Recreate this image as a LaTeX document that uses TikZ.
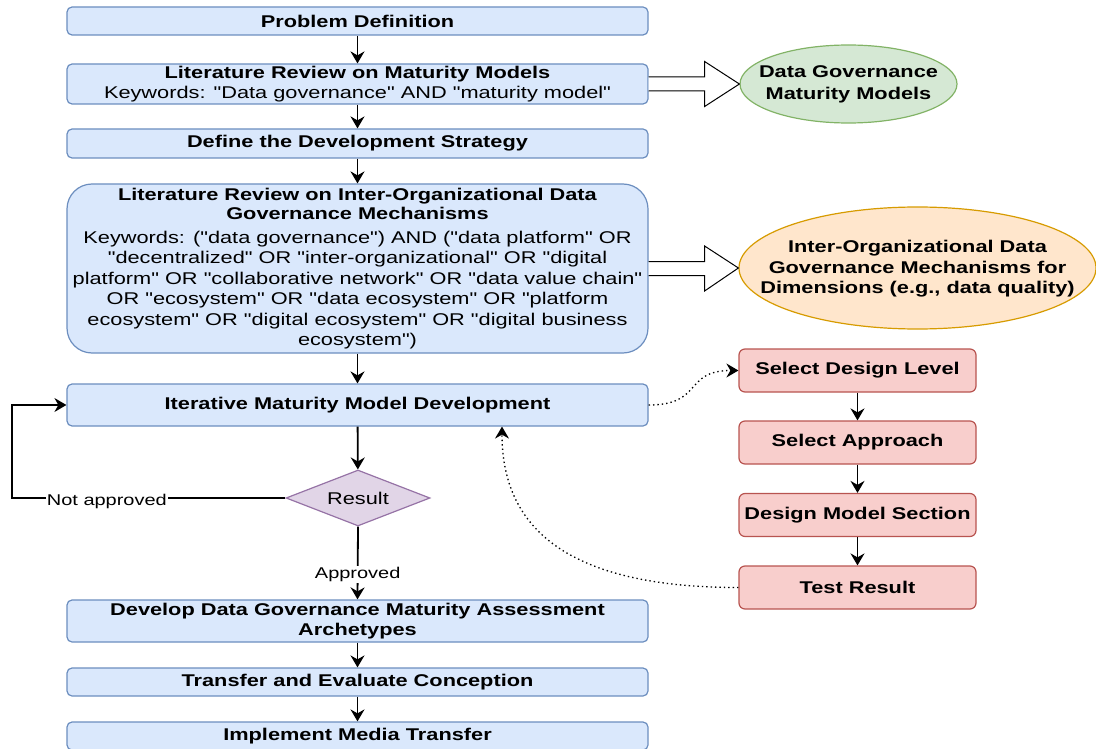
\documentclass[tikz,border=0pt]{standalone}
\usepackage{fontspec}
\setmainfont{Liberation Sans}[FakeStretch=1.28, Ligatures=TeXOff]
\usetikzlibrary{arrows.meta,shapes.geometric,calc}

\definecolor{bluefill}{HTML}{DAE8FC}
\definecolor{bluedraw}{HTML}{6C8EBF}
\definecolor{greenfill}{HTML}{D5E8D4}
\definecolor{greendraw}{HTML}{82B366}
\definecolor{orangefill}{HTML}{FFE6CC}
\definecolor{orangedraw}{HTML}{D79B00}
\definecolor{redfill}{HTML}{F8CECC}
\definecolor{reddraw}{HTML}{B85450}
\definecolor{purplefill}{HTML}{E1D5E7}
\definecolor{purpledraw}{HTML}{9673A6}

\newcommand\mainsize{\fontsize{17}{20.5}\selectfont}
\newcommand\labsize{\fontsize{15.6}{18}\selectfont}

\begin{document}
\begin{tikzpicture}[x=1pt,y=-1pt,
  base/.style={align=center, inner sep=0pt, line width=1.2pt, font=\mainsize},
  bluebox/.style={base, draw=bluedraw, fill=bluefill, rounded corners=5pt, minimum width=581pt},
  boldtext/.style={font=\mainsize\bfseries},
  redbox/.style={base, boldtext, draw=reddraw, fill=redfill, rounded corners=6pt,
    minimum width=237pt, minimum height=43pt},
  oval/.style={ellipse, base, inner sep=0pt},
  ovaltext/.style={align=center, inner sep=0pt, boldtext},
  tip/.style={-{Stealth[length=12pt,width=14pt,inset=4pt]}},
  flow/.style={tip, line width=1.8pt},
  loopline/.style={tip, line width=1.4pt},
  dots/.style={tip, line width=1.3pt, dash pattern=on 1.4pt off 3pt},
  lab/.style={font=\labsize, fill=white, inner sep=1pt},
  blockarr/.style={draw=black, fill=white, line width=1pt, line join=miter}
]
\useasboundingbox (0,0) rectangle (1096,749);
\clip (0,0) rectangle (1096,749);

% main column
\node[bluebox, boldtext, minimum height=28pt] (pd) at (357.5,21) {Problem Definition};
\node[bluebox, minimum height=40pt] (lr) at (357.5,84)
  {\textbf{Literature Review on Maturity Models}\\Keywords: "Data governance" AND "maturity model"};
\node[bluebox, boldtext, minimum height=29pt] (ds) at (357.5,143.5) {Define the Development Strategy};
\node[bluebox, minimum height=169pt, rounded corners=25pt] (big) at (357.5,268.5)
  {\textbf{Literature Review on Inter-Organizational Data}\\[-1.5pt]
   \textbf{Governance Mechanisms}\\[3.5pt]
   Keywords: ("data governance") AND ("data platform" OR\\
   "decentralized" OR "inter-organizational" OR "digital\\
   platform" OR "collaborative network" OR "data value chain"\\
   OR "ecosystem" OR "data ecosystem" OR "platform\\
   ecosystem" OR "digital ecosystem" OR "digital business\\
   ecosystem")};
\node[bluebox, boldtext, minimum height=42pt] (it) at (357.5,405) {Iterative Maturity Model Development};
\node[diamond, base, shape aspect=2.57, draw=purpledraw, fill=purplefill,
  minimum width=144pt, minimum height=56pt] (res) at (358,498) {Result};
\node[bluebox, boldtext, minimum height=42pt] (dev) at (357.5,621)
  {Develop Data Governance Maturity Assessment\\Archetypes};
\node[bluebox, boldtext, minimum height=28pt] (tr) at (357.5,682) {Transfer and Evaluate Conception};
\node[bluebox, boldtext, minimum height=28pt] (im) at (357.5,736) {Implement Media Transfer};

% outcomes
\node[oval, draw=greendraw, fill=greenfill, minimum width=217pt, minimum height=78pt] (dgm)
  at (848.5,84) {};
\node[ovaltext] (dgmtext) at (dgm.center) {Data Governance\\[1.5pt]Maturity Models};
\node[oval, draw=orangedraw, fill=orangefill, minimum width=357pt, minimum height=122pt] (ioe)
  at (917.5,268) {};
\node[ovaltext] (ioetext) at ([yshift=-1pt]ioe.center)
  {Inter-Organizational Data\\Governance Mechanisms for\\Dimensions (e.g., data quality)};

% design cycle
\node[redbox] (sdl) at (857.5,370.5) {Select Design Level};
\node[redbox] (sa) at (857.5,442.5) {Select Approach};
\node[redbox] (dms) at (857.5,515) {Design Model Section};
\node[redbox] (tres) at (857.5,587.5) {Test Result};

% block arrows to the outcomes
\draw[blockarr] ($(lr.east)+(0,-7)$) -- ++(56,0) -- ++(0,-15.5) -- (dgm.west)
  -- ($(lr.east)+(56,22.5)$) -- ++(0,-15.5) -- ($(lr.east)+(0,7)$);
\draw[blockarr] ($(big.east)+(0,-7)$) -- ++(56,0) -- ++(0,-15.5) -- (ioe.west)
  -- ($(big.east)+(56,22.5)$) -- ++(0,-15.5) -- ($(big.east)+(0,7)$);

% main flow
\draw[flow] (pd) -- (lr);
\draw[flow] (lr) -- (ds);
\draw[flow] (ds) -- (big);
\draw[flow] (big) -- (it);
\draw[flow] (it) -- (res);
\draw[flow] (dev) -- (tr);
\draw[flow] (tr) -- (im);

% decision
\coordinate (lp) at (12,0);
\draw[loopline] (res.west) -- node[lab, pos=0.653, yshift=-3.5pt] {Not approved} (res.west -| lp) |- (it.west);
\draw[flow] (res.south) -- node[lab, pos=0.62, yshift=-2.5pt] {Approved} (dev.north);

% design cycle flow
\draw[flow] (sdl) -- (sa);
\draw[flow] (sa) -- (dms);
\draw[flow] (dms) -- (tres);
\draw[dots] (it.east) .. controls +(55,0) and +(-55,0) .. (sdl.west);
\draw[dots] (tres.west) .. controls +(-180,0) and +(0,95) .. ([xshift=144.5pt]it.south);
\end{tikzpicture}
\end{document}
